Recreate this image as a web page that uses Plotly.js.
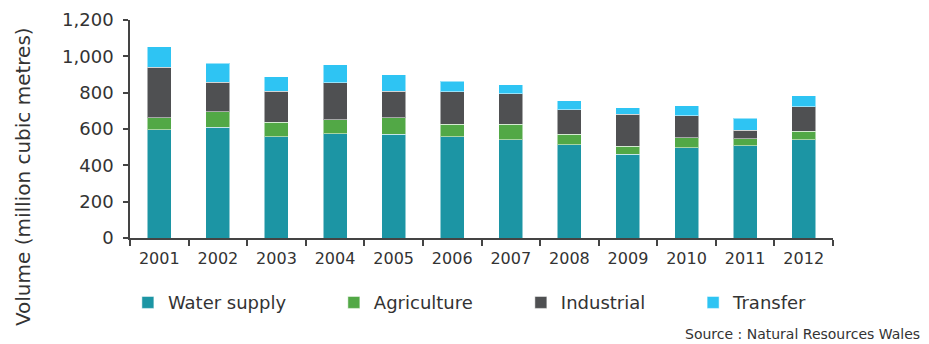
<!DOCTYPE html>
<html>
<head>
<meta charset="utf-8">
<script src="https://cdn.plot.ly/plotly-3.0.1.min.js"></script>
<style>html,body{margin:0;padding:0;background:#fff;}#chart{width:929px;height:344px;}</style>
</head>
<body>
<div id="chart"></div>
<script>
const years = ['2001','2002','2003','2004','2005','2006','2007','2008','2009','2010','2011','2012'];
const waterSupply = [595, 610, 557, 574, 570, 557, 542, 512, 462, 497, 508, 541];
const agriculture = [68, 84, 79, 78, 93, 68, 84, 60, 42, 55, 38, 47];
const industrial = [276, 163, 171, 203, 146, 180, 169, 133, 177, 120, 47, 135];
const transfer = [115, 106, 81, 100, 90, 57, 49, 51, 35, 57, 65, 61];
const yTicks = [0, 200, 400, 600, 800, 1000, 1200];
const yTickText = ['0', '200', '400', '600', '800', '1,000', '1,200'];

const FONT = '"DejaVu Sans", Verdana, sans-serif';
const TXT = '#333333';
const edge = {color: 'rgba(255,255,255,0.5)', width: 1};
function mk(name, vals, color, leg) {
  return {type: 'bar', name: name, x: years, y: vals, legend: leg,
          marker: {color: color, line: edge}, hoverinfo: 'x+y+name'};
}
const data = [
  mk('Water supply', waterSupply, '#1C95A4', 'legend'),
  mk('Agriculture', agriculture, '#52A846', 'legend2'),
  mk('Industrial', industrial, '#4F5052', 'legend3'),
  mk('Transfer', transfer, '#2EC4F3', 'legend4')
];
function leg(x) {
  return {orientation: 'h', x: x, xanchor: 'left', y: -0.212, yanchor: 'top',
          font: {family: FONT, size: 18, color: TXT}, itemclick: false, bgcolor: 'rgba(0,0,0,0)'};
}
const layout = {
  width: 929, height: 344,
  margin: {l: 130, r: 96, t: 20, b: 106},
  barmode: 'stack', bargap: 0.59,
  paper_bgcolor: '#fff', plot_bgcolor: '#fff',
  font: {family: FONT, color: TXT, size: 17},
  showlegend: true,
  legend: leg(-0.003),
  legend2: leg(0.290),
  legend3: leg(0.556),
  legend4: leg(0.801),
  xaxis: {type: 'category', showline: true, linecolor: '#444', linewidth: 1.5,
          ticks: 'outside', ticklen: 6, tickcolor: '#444', tickwidth: 1.5, tickson: 'boundaries',
          ticklabelstandoff: 5,
          tickfont: {family: FONT, size: 16, color: TXT}, showgrid: false, zeroline: false,
          fixedrange: true},
  yaxis: {range: [0, 1200], tickvals: yTicks, ticktext: yTickText, showline: true,
          linecolor: '#444', linewidth: 1.5, ticks: 'outside', ticklen: 5, tickcolor: '#444',
          tickwidth: 1.5, ticklabelstandoff: 6,
          tickfont: {family: FONT, size: 18, color: TXT}, showgrid: false, zeroline: false,
          fixedrange: true},
  annotations: [
    {text: 'Volume (million cubic metres)', xref: 'paper', yref: 'paper', x: -0.152, y: 0.28,
     xanchor: 'center', yanchor: 'middle', textangle: -90, showarrow: false,
     font: {family: FONT, size: 20, color: TXT}},
    {text: 'Source : Natural Resources Wales', xref: 'paper', yref: 'paper', x: 1.127, y: -0.442,
     xanchor: 'right', yanchor: 'middle', showarrow: false,
     font: {family: FONT, size: 14, color: TXT}}
  ]
};
Plotly.newPlot('chart', data, layout, {displayModeBar: false});
</script>
</body>
</html>
